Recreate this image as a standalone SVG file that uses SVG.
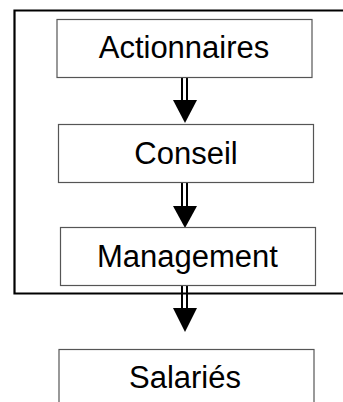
<svg xmlns="http://www.w3.org/2000/svg" width="343" height="402" viewBox="0 0 343 402">
<defs>
<style>
.box{fill:#fff;stroke:#555;stroke-width:1.2}
.lbl{font-family:"Liberation Sans",Arial,sans-serif;font-size:31px;fill:#000;text-anchor:middle}
.dl{stroke:#000;stroke-width:2;fill:none}
.head{fill:#000}
.frame{fill:none;stroke:#000;stroke-width:2.2}
</style>
</defs>
<rect width="343" height="402" fill="#fff"/>
<path class="frame" d="M350,10.5 H14.5 V293.5 H350"/>
<g id="connectors">
<g id="arrow1"><line class="dl" x1="182" y1="77" x2="182" y2="101"/><line class="dl" x1="187" y1="77" x2="187" y2="101"/><polygon class="head" points="173,100 197,100 185,123"/></g>
<g id="arrow2"><line class="dl" x1="182" y1="182" x2="182" y2="207"/><line class="dl" x1="187" y1="182" x2="187" y2="207"/><polygon class="head" points="173,206 197,206 185,228"/></g>
<g id="arrow3"><line class="dl" x1="182" y1="285" x2="182" y2="309"/><line class="dl" x1="187" y1="285" x2="187" y2="309"/><polygon class="head" points="173,308 197,308 185,332"/></g>
</g>
<g id="actionnaires"><rect class="box" x="57" y="19.5" width="255" height="58"/><text class="lbl" x="184" y="58">Actionnaires</text></g>
<g id="conseil"><rect class="box" x="58.5" y="124.5" width="255" height="58"/><text class="lbl" x="186" y="164">Conseil</text></g>
<g id="management"><rect class="box" x="60.5" y="227.5" width="255" height="58"/><text class="lbl" x="187.5" y="267">Management</text></g>
<g id="salaries"><rect class="box" x="59" y="349.5" width="255" height="70"/><text class="lbl" x="185" y="388">Salariés</text></g>
</svg>
